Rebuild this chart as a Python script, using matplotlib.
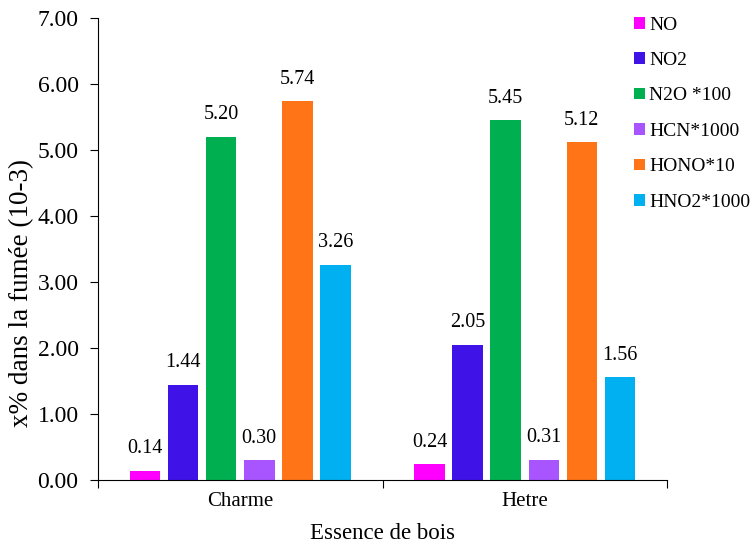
import numpy as np
import matplotlib.pyplot as plt

plt.rcParams['font.family'] = ['Liberation Serif', 'DejaVu Serif']

# Données
categories = ['Charme', 'Hetre']
series = ['NO', 'NO2', 'N2O *100', 'HCN*1000', 'HONO*10', 'HNO2*1000']
values = [
    [0.14, 0.24],
    [1.44, 2.05],
    [5.20, 5.45],
    [0.30, 0.31],
    [5.74, 5.12],
    [3.26, 1.56],
]
yticks = [0, 1, 2, 3, 4, 5, 6, 7]
colors = ['#FF00FF', '#3F12E8', '#00B050', '#A855FF', '#FF7417', '#00B0F0']

fig = plt.figure(figsize=(7.53, 5.47), dpi=100)
ax = fig.add_axes([98 / 753, 1 - 480 / 547, (667 - 98) / 753, (480 - 18) / 547])

x = np.arange(len(categories))
pitch = 0.134
width = 0.107
for i, (name, vals) in enumerate(zip(series, values)):
    pos = x + (i - 2.5) * pitch
    bars = ax.bar(pos, vals, width, color=colors[i], label=name)
    for b, v in zip(bars, vals):
        ax.annotate(f'{v:.2f}', (b.get_x() + b.get_width() / 2, v),
                    xytext=(0, 9), textcoords='offset points',
                    ha='center', va='bottom', fontsize=14.5)

ax.set_xlim(-0.5, 1.5)
ax.set_ylim(0, 7)
ax.set_yticks(yticks)
ax.set_yticklabels([f'{t:.2f}' for t in yticks], fontsize=17)
ax.set_xticks([-0.5, 0.5, 1.5])
ax.set_xticklabels([])
ax.set_xticks(x, minor=True)
ax.set_xticklabels(categories, minor=True, fontsize=15)
ax.tick_params(axis='x', which='minor', length=0, pad=9)
ax.tick_params(axis='x', which='major', length=6, direction='out')
ax.tick_params(axis='y', length=6, direction='out', pad=8)
ax.spines['top'].set_visible(False)
ax.spines['right'].set_visible(False)

ax.set_xlabel('Essence de bois', fontsize=16.5)
ax.xaxis.set_label_coords(0.5, -0.094)
ax.set_ylabel('x% dans la fumée (10-3)', fontsize=19.5)
ax.yaxis.set_label_coords(-0.112, 0.405)

ax.legend(loc='upper left', bbox_to_anchor=(0.928, 1.02), frameon=False,
          fontsize=14, handlelength=0.55, handleheight=0.55, handletextpad=0.25,
          labelspacing=0.95, borderaxespad=0)

plt.savefig('out.png', dpi=100)
